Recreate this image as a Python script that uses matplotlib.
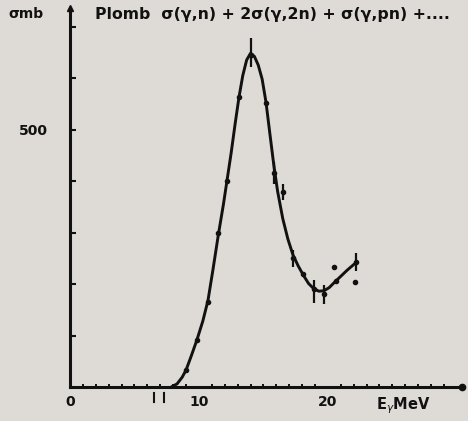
import matplotlib.pyplot as plt
import numpy as np

# photoneutron cross section of lead
# smooth curve drawn through the data, E in MeV, sigma in mb
curve_E = [7.85, 8.3, 8.7, 9.0, 9.4, 9.85, 10.3, 10.7, 11.1, 11.5, 11.9, 12.2,
           12.5, 12.8, 13.1, 13.4, 13.7, 14.0, 14.3, 14.6, 14.9, 15.2, 15.5,
           15.8, 16.1, 16.5, 16.9, 17.3, 17.7, 18.1, 18.5, 18.9, 19.3, 19.7,
           20.1, 20.5, 21.0, 21.5, 22.2]
curve_sig = [0, 6, 19, 33, 60, 92, 128, 168, 230, 295, 355, 405,
             455, 510, 562, 605, 635, 648, 642, 625, 598, 553, 492,
             432, 380, 327, 287, 256, 235, 217, 201, 191, 186, 187,
             193, 203, 215, 227, 242]

# measured points
pts_E = [9.0, 9.85, 10.7, 11.5, 12.2, 13.1, 14.0, 15.2, 15.8, 16.5, 17.3, 18.1,
         18.9, 19.7, 20.6, 22.2, 20.5, 22.1]
pts_sig = [33, 91, 166, 300, 400, 563, 645, 551, 415, 379, 250, 220,
           190, 180, 206, 243, 233, 204]

# points that carry an error bar
err_E = [14.0, 15.8, 16.5, 17.3, 18.9, 19.7, 22.2]
err_sig = [650, 415, 379, 250, 185, 180, 243]
err_d = [28, 21, 16, 17, 22, 18, 17]

paper = '#dedad5'
ink = '#111111'

fig = plt.figure(figsize=(4.68, 4.21), dpi=100, facecolor=paper)
ax = fig.add_axes([70/468, 1 - 387/421, (462 - 70)/468, (387 - 8)/421])
ax.set_facecolor(paper)

ax.plot(curve_E, curve_sig, color=ink, lw=2.1, solid_capstyle='round',
        solid_joinstyle='round')
ax.plot(pts_E, pts_sig, 'o', color=ink, ms=3)
ax.errorbar(err_E, err_sig, yerr=err_d, fmt='none', ecolor=ink, elinewidth=1.6)

ax.set_xlim(0, 30.4)
ax.set_ylim(0, 736)

for s in ['top', 'right']:
    ax.spines[s].set_visible(False)
for s in ['left', 'bottom']:
    ax.spines[s].set_linewidth(2.2)
    ax.spines[s].set_color(ink)

# arrow ends of the axes
ax.plot([0], [736], marker='^', color=ink, ms=5, clip_on=False)
ax.plot([30.4], [0], marker='o', color=ink, ms=4.5, clip_on=False)

ax.set_yticks(np.arange(100, 800, 100))
ax.set_yticklabels(['500' if v == 500 else '' for v in range(100, 800, 100)])
ax.set_xticks([0, 10, 20])
ax.set_xticklabels(['0', '10', '20'])
ax.set_xticks(np.arange(1, 30, 1), minor=True)
ax.tick_params(axis='y', direction='in', length=4, width=1.5, pad=16,
               labelsize=10, colors=ink)
ax.tick_params(axis='x', which='major', direction='in', length=0, pad=6,
               labelsize=10, colors=ink)
ax.tick_params(axis='x', which='minor', direction='in', length=2.5, width=1.3)
for lab in ax.get_xticklabels() + ax.get_yticklabels():
    lab.set_fontweight('bold')

# threshold marks under the axis
for e in [6.5, 7.3]:
    ax.plot([e, e], [-12, -30], color=ink, lw=1.5, clip_on=False)

fig.text(8/468, 1 - 14/421, 'σmb', fontsize=10, fontweight='bold', va='center', color=ink)
fig.text(95/468, 1 - 14/421, 'Plomb  σ(γ,n) + 2σ(γ,2n) + σ(γ,pn) +....',
         fontsize=11.3, fontweight='bold', va='center', color=ink)
fig.text(376/468, 1 - 406/421, r'E$_{\gamma}$MeV', fontsize=10.5, fontweight='bold',
         va='center', color=ink)

fig.savefig('out.png', dpi=100, facecolor=paper)
